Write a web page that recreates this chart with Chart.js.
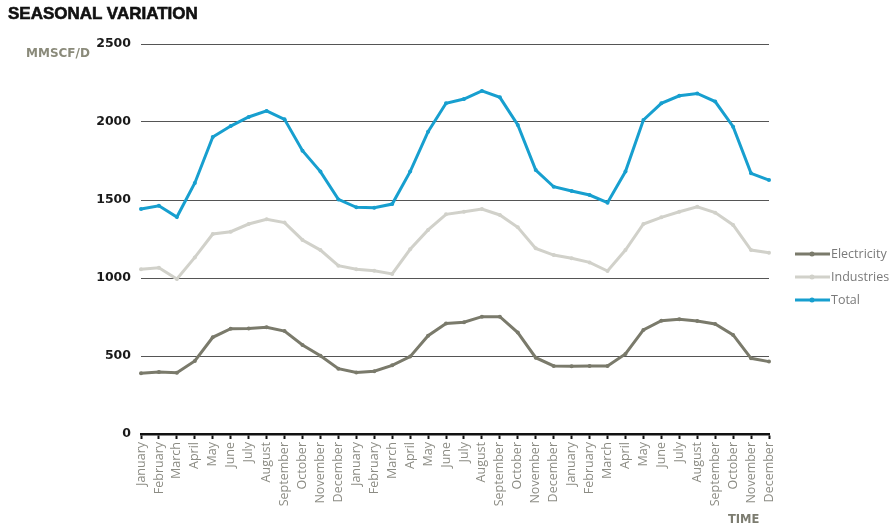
<!DOCTYPE html>
<html>
<head>
<meta charset="utf-8">
<script src="https://cdn.jsdelivr.net/npm/chart.js@4/dist/chart.umd.min.js"></script>
<style>
  html, body { margin: 0; padding: 0; background: #ffffff; }
  #wrap { position: relative; width: 892px; height: 529px; overflow: hidden; }
  #chart { position: absolute; left: 0; top: 0; }
  .title {
    position: absolute; left: 8px; top: 4px;
    font: bold 17px "Liberation Sans", Arial, sans-serif;
    color: #111; -webkit-text-stroke: 0.6px #111; white-space: nowrap;
  }
  .unit {
    position: absolute; left: 26px; top: 46px;
    font: bold 12px "DejaVu Sans", Verdana, sans-serif;
    color: #8a8a7a; white-space: nowrap;
  }
  .time {
    position: absolute; left: 728px; top: 512px;
    font: bold 11.5px "DejaVu Sans", Verdana, sans-serif;
    color: #7c7c70; white-space: nowrap;
  }
</style>
</head>
<body>
<div id="wrap">
  <canvas id="chart" width="892" height="529"></canvas>
  <div class="title">SEASONAL VARIATION</div>
  <div class="unit">MMSCF/D</div>
  <div class="time">TIME</div>
</div>
<script>
// Month labels for three consecutive years
const months = ["January","February","March","April","May","June","July","August","September","October","November","December"];
const categories = [...months, ...months, ...months];

// Gas demand, MMSCF/D
const electricity = [389, 397, 393, 468, 620, 675, 677, 684, 660, 571, 502, 419,
                     395, 402, 440, 496, 630, 709, 716, 752, 752, 650, 489, 436,
                     434, 436, 436, 513, 667, 726, 735, 724, 705, 635, 485, 464];
const industries  = [1056, 1066, 994, 1132, 1282, 1297, 1346, 1376, 1355, 1244, 1179, 1079,
                     1056, 1047, 1026, 1184, 1308, 1408, 1425, 1442, 1404, 1325, 1190, 1147,
                     1126, 1100, 1045, 1179, 1346, 1389, 1425, 1457, 1419, 1340, 1179, 1162];
const total       = [1442, 1463, 1391, 1609, 1904, 1974, 2032, 2071, 2017, 1816, 1682, 1504,
                     1453, 1451, 1474, 1682, 1938, 2120, 2147, 2199, 2158, 1981, 1692, 1585,
                     1558, 1532, 1483, 1682, 2013, 2120, 2168, 2183, 2131, 1970, 1671, 1628];

const yTicks = [0, 500, 1000, 1500, 2000, 2500];

function series(label, data, color) {
  return {
    label, data,
    borderColor: color, backgroundColor: color,
    borderWidth: 3,
    pointRadius: 2, pointHoverRadius: 2,
    pointBackgroundColor: color, pointBorderColor: color, pointBorderWidth: 0,
    tension: 0, fill: false
  };
}

// Legend on the right, drawn with each dataset's own colour
const sideLegend = {
  id: 'sideLegend',
  afterDraw(chart) {
    const ctx = chart.ctx;
    const rows = [254, 277, 300];
    ctx.save();
    chart.data.datasets.forEach((ds, i) => {
      const y = rows[i];
      ctx.strokeStyle = ds.borderColor;
      ctx.lineWidth = 3;
      ctx.beginPath();
      ctx.moveTo(795, y);
      ctx.lineTo(830, y);
      ctx.stroke();
      ctx.fillStyle = ds.borderColor;
      ctx.beginPath();
      ctx.arc(812, y, 2.5, 0, Math.PI * 2);
      ctx.fill();
      ctx.fillStyle = '#7a7a7a';
      ctx.font = '12.5px "Open Sans", sans-serif';
      ctx.textBaseline = 'middle';
      ctx.textAlign = 'left';
      ctx.fillText(ds.label, 831, y);
    });
    ctx.restore();
  }
};

new Chart(document.getElementById('chart'), {
  type: 'line',
  data: {
    labels: categories,
    datasets: [
      series('Electricity', electricity, '#7a7a6b'),
      series('Industries', industries, '#d1d1ca'),
      series('Total', total, '#179fcf')
    ]
  },
  options: {
    responsive: false,
    animation: false,
    layout: { padding: { top: 44, right: 123, left: 0, bottom: 0 } },
    plugins: {
      legend: { display: false },
      tooltip: { enabled: false },
      title: { display: false }
    },
    scales: {
      x: {
        offset: false,
        grid: {
          display: true, drawOnChartArea: false, drawTicks: true,
          tickLength: 5, tickWidth: 2, tickColor: '#111'
        },
        border: { display: true, color: '#111', width: 2.5 },
        ticks: {
          autoSkip: false, maxRotation: 90, minRotation: 90, padding: 3,
          color: '#8c8c84',
          font: { family: '"Open Sans", sans-serif', size: 12.5 }
        },
        afterFit(scale) { scale.height = 95; }
      },
      y: {
        min: 0, max: 2500,
        afterBuildTicks(scale) { scale.ticks = yTicks.map(v => ({ value: v })); },
        grid: { color: '#555', lineWidth: 1, drawTicks: false },
        border: { display: false },
        ticks: {
          padding: 10, color: '#1a1a1a',
          callback: v => String(v),
          font: { family: '"DejaVu Sans", Verdana, sans-serif', size: 12.5, weight: 'bold' }
        },
        afterFit(scale) { scale.width = 141; }
      }
    }
  },
  plugins: [sideLegend]
});
</script>
</body>
</html>
